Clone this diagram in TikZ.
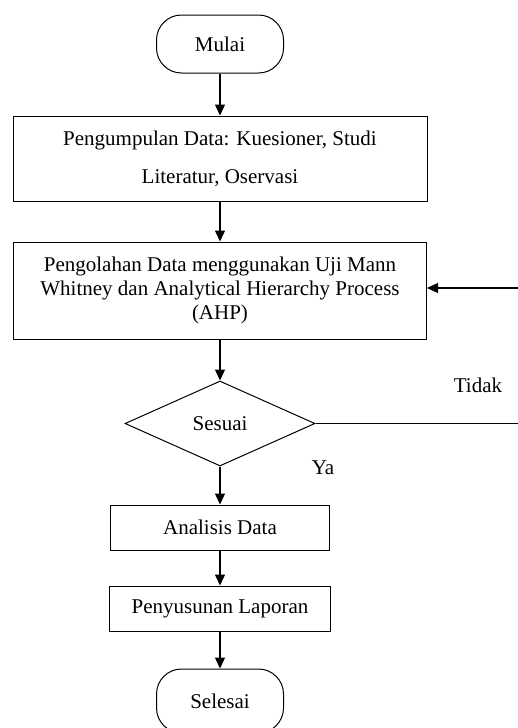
\documentclass[tikz,border=0pt]{standalone}
\usepackage{fontspec}
\setmainfont{Liberation Serif}
\usetikzlibrary{arrows.meta,shapes.geometric}
\usetikzlibrary{positioning}

\begin{document}
\begin{tikzpicture} [x=1pt,y=-1pt,font=\fontsize{21}{24}\selectfont,
  every node/.style={draw,line width=1pt,align=center,inner sep=0pt},
  terminal/.style={rectangle,rounded corners=25pt,minimum width=127pt,minimum height=58pt},
  proses/.style={rectangle,minimum height=45pt},
  keputusan/.style={diamond,aspect=2.2,minimum width=190pt,minimum height=85pt},
  label/.style={draw=none},
  panah/.style={line width=1.2pt,-{Triangle[length=11pt,width=10pt]}}]
\useasboundingbox (0,0) rectangle (517,728);
\node (mulai) [terminal] at (220,44) {Mulai};
\node (kumpul) [proses,below=42pt of mulai,minimum width=414pt,minimum height=85pt,
  font=\fontsize{21}{38}\selectfont] {Pengumpulan Data: Kuesioner, Studi\\Literatur, Oservasi};
\node (olah) [proses,below=40pt of kumpul,minimum width=413pt,minimum height=97pt]
  {Pengolahan Data menggunakan Uji Mann\\Whitney dan Analytical Hierarchy Process\\(AHP)};
\node (sesuai) [keputusan,below=41pt of olah] {Sesuai};
\node (analisis) [proses,below=38pt of sesuai,minimum width=219pt] {Analisis Data};
\node (laporan) [proses,below=35pt of analisis,minimum width=221pt] {Penyusunan Laporan};
\node (selesai) [terminal,below=37pt of laporan,minimum height=64pt] {Selesai};
\node (tidak) [label] at (478,385) {Tidak};
\node (ya) [label] at (323,468) {Ya};
\coordinate (k2) at (519,288);

\draw[panah](mulai)--(kumpul);
\draw[panah](kumpul)--(olah);
\draw[panah](olah)--(sesuai);
\draw[panah](sesuai)--(analisis);
\draw[panah](analisis)--(laporan);
\draw[panah](laporan)--(selesai);
\draw[panah](sesuai.east)-|(k2)--(olah.east|-k2);
\end{tikzpicture}
\end{document}
